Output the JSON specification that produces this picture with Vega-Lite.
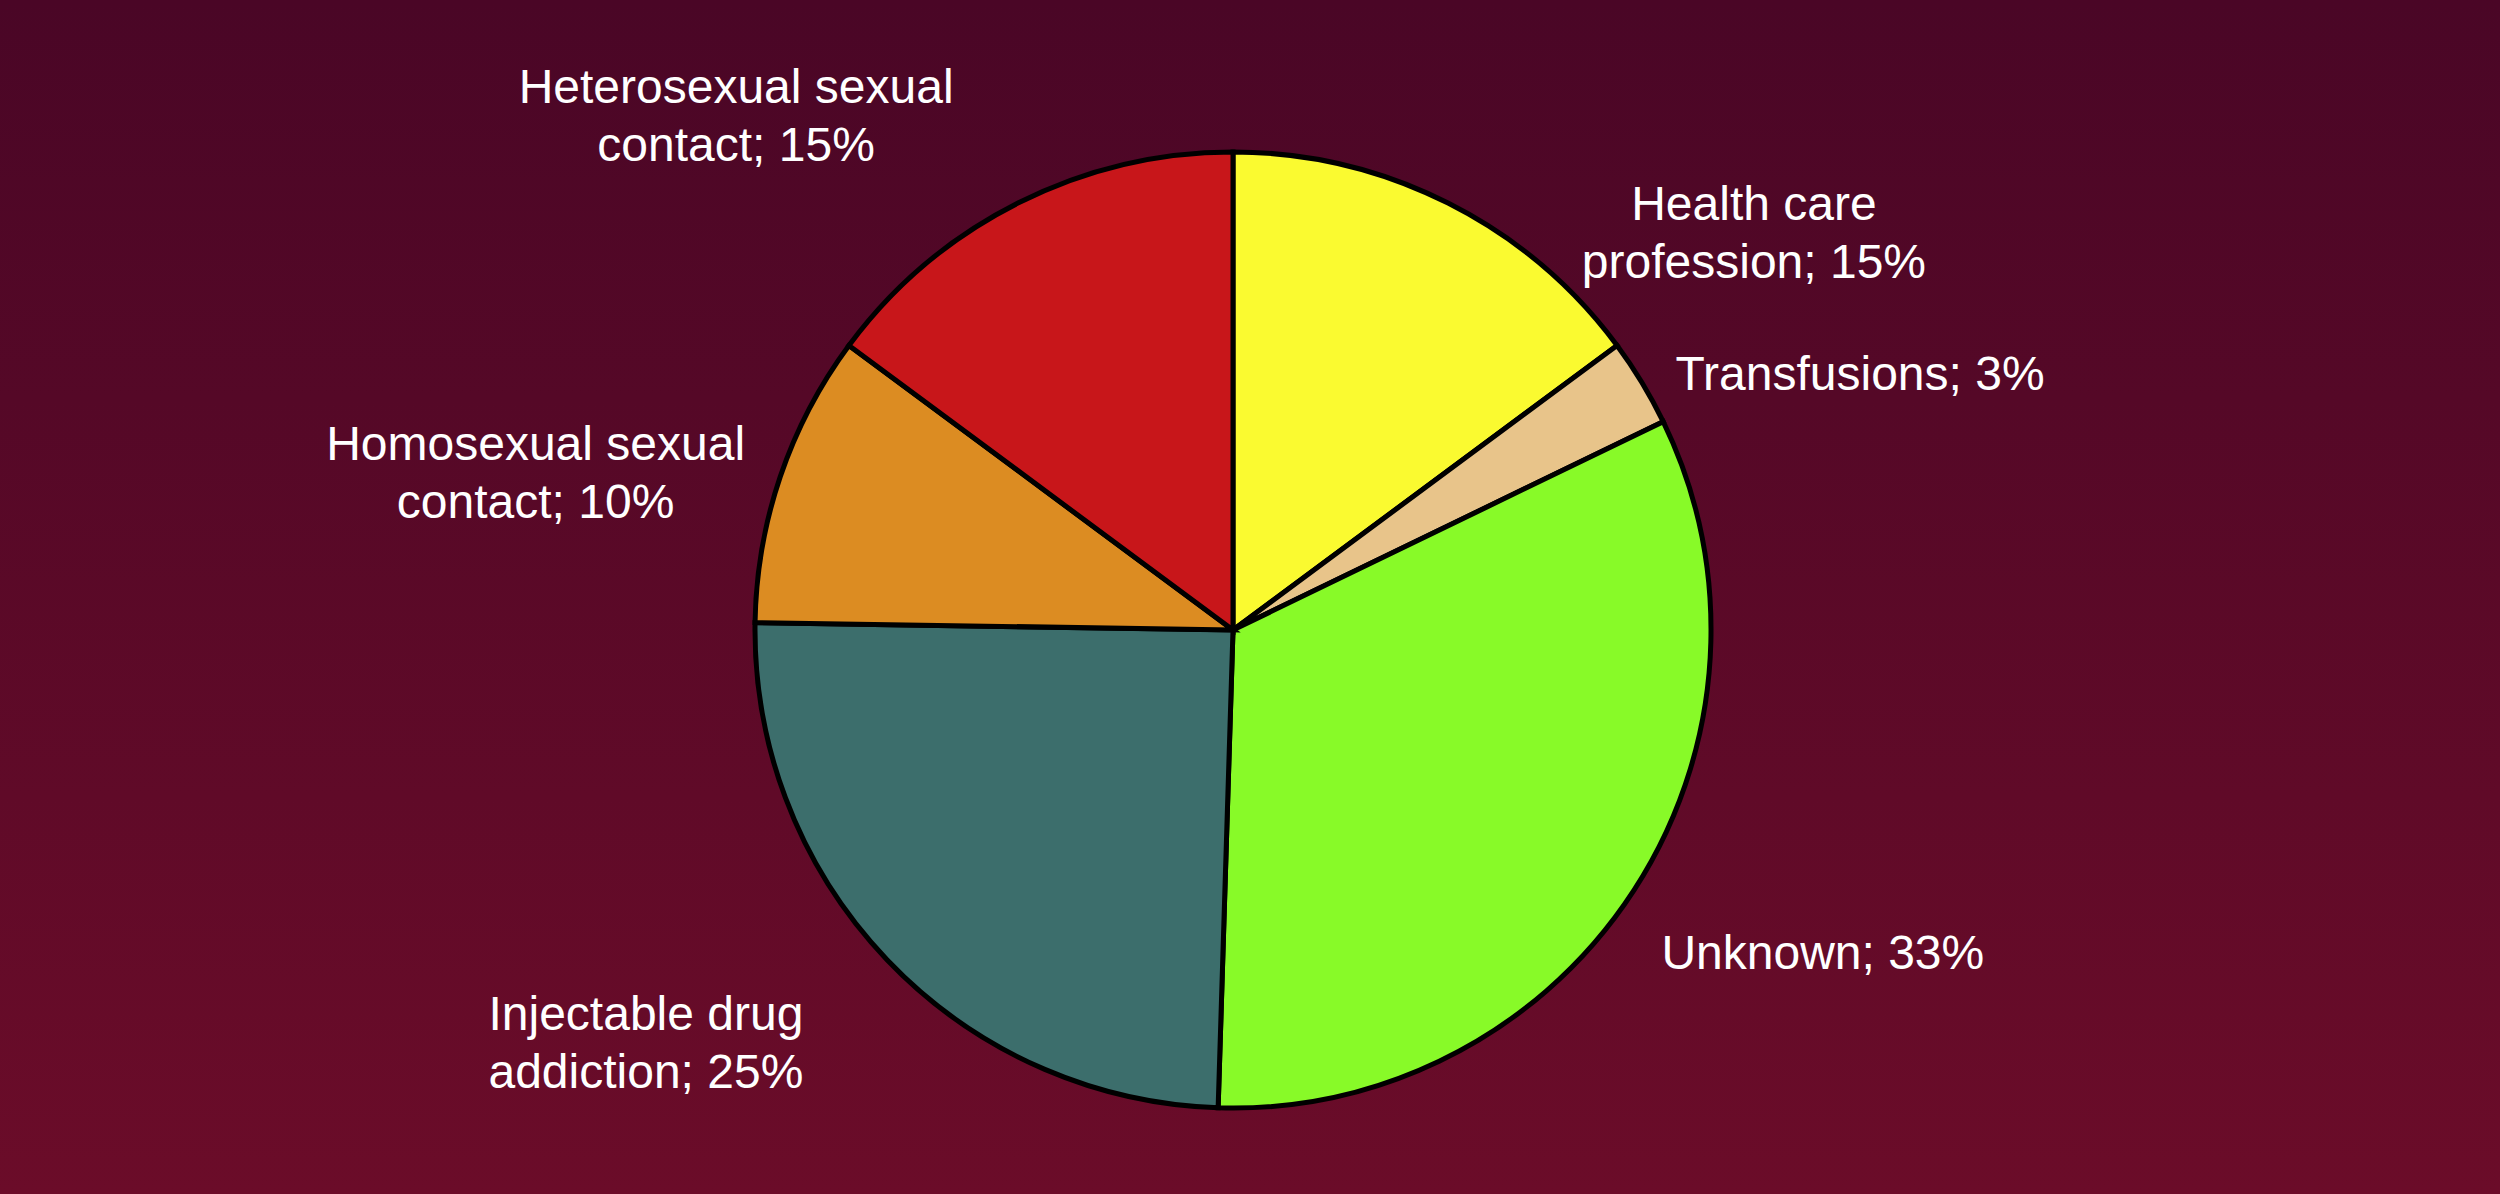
{
  "$schema": "https://vega.github.io/schema/vega-lite/v6.json",
  "width": 2500,
  "height": 1194,
  "autosize": {"type": "fit", "contains": "padding"},
  "padding": 0,
  "background": "#4a0626",
  "config": {"view": {"stroke": null}},
  "data": {
    "values": [
      {"rank": 1, "cat": "Health care profession", "value": 15, "label": "Health care\nprofession; 15%"},
      {"rank": 2, "cat": "Transfusions", "value": 3, "label": "Transfusions; 3%"},
      {"rank": 3, "cat": "Unknown", "value": 33, "label": "Unknown; 33%"},
      {"rank": 4, "cat": "Injectable drug addiction", "value": 25, "label": "Injectable drug\naddiction; 25%"},
      {"rank": 5, "cat": "Homosexual sexual contact", "value": 10, "label": "Homosexual sexual\ncontact; 10%"},
      {"rank": 6, "cat": "Heterosexual sexual contact", "value": 15, "label": "Heterosexual sexual\ncontact; 15%"}
    ]
  },
  "layer": [
    {
      "data": {"values": [{"bg": 1}]},
      "mark": {
        "type": "rect",
        "fill": {
          "gradient": "linear",
          "x1": 0, "y1": 0, "x2": 0, "y2": 1,
          "stops": [
            {"offset": 0, "color": "#4a0626"},
            {"offset": 1, "color": "#6b0c29"}
          ]
        }
      },
      "encoding": {}
    },
    {
      "mark": {
        "type": "arc",
        "outerRadius": 478,
        "stroke": "#000000",
        "strokeWidth": 5,
        "x": {"expr": "width/2 - 17"},
        "y": {"expr": "height/2 + 33"}
      },
      "encoding": {
        "theta": {"field": "value", "type": "quantitative", "stack": true},
        "order": {"field": "rank", "type": "quantitative", "sort": "ascending"},
        "color": {
          "field": "cat",
          "type": "nominal",
          "scale": {
            "domain": ["Health care profession", "Transfusions", "Unknown", "Injectable drug addiction", "Homosexual sexual contact", "Heterosexual sexual contact"],
            "range": ["#fafa30", "#e8c48a", "#88fa28", "#3c6e6c", "#dc8c22", "#c8161a"]
          },
          "legend": null
        }
      }
    },
    {
      "mark": {
        "type": "text",
        "radius": 560,
        "x": {"expr": "width/2 - 17"},
        "y": {"expr": "height/2 + 33"},
        "font": "Liberation Sans",
        "fontSize": 48,
        "lineHeight": 58,
        "lineBreak": "\n",
        "align": "center",
        "baseline": "middle",
        "fill": "#ffffff",
        "dx": {"expr": "datum.rank==1?269:datum.rank==2?148:datum.rank==3?120:datum.rank==4?-182:datum.rank==5?-167:-245"},
        "dy": {"expr": "datum.rank==1?76:datum.rank==2?36:datum.rank==3?20:datum.rank==4?-1:datum.rank==5?-4:-41"}
      },
      "encoding": {
        "theta": {"field": "value", "type": "quantitative", "stack": true},
        "order": {"field": "rank", "type": "quantitative", "sort": "ascending"},
        "text": {"field": "label", "type": "nominal"}
      }
    }
  ]
}
